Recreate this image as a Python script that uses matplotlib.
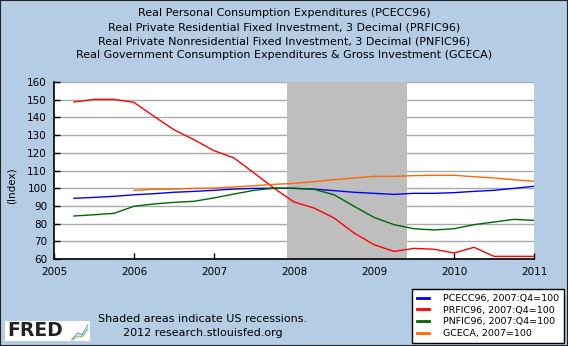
import matplotlib
matplotlib.use("Agg")
import matplotlib.pyplot as plt
from matplotlib.patches import Rectangle

# quarterly dates as decimal years
quarters = [2005.25, 2005.5, 2005.75, 2006.0, 2006.25, 2006.5, 2006.75,
            2007.0, 2007.25, 2007.5, 2007.75, 2008.0, 2008.25, 2008.5,
            2008.75, 2009.0, 2009.25, 2009.5, 2009.75, 2010.0, 2010.25,
            2010.5, 2010.75, 2011.0]

pcecc96 = [94.3, 94.8, 95.4, 96.3, 96.9, 97.7, 98.2, 98.8, 99.5, 99.9,
           100.0, 99.9, 99.5, 98.6, 97.7, 97.1, 96.5, 97.1, 97.1, 97.5,
           98.2, 98.8, 99.9, 101.1]
prfic96 = [148.7, 150.2, 150.2, 148.5, 140.6, 133.0, 127.4, 121.2, 117.1,
           108.6, 100.0, 92.2, 88.8, 83.2, 74.7, 68.1, 64.3, 66.0, 65.5,
           63.4, 66.6, 61.5, 61.5, 61.5]
pnfic96 = [84.3, 85.0, 85.8, 89.8, 91.1, 92.0, 92.6, 94.5, 96.7, 98.8,
           100.0, 100.0, 99.4, 96.3, 89.8, 83.5, 79.4, 77.1, 76.4, 77.1,
           79.4, 80.9, 82.4, 81.8]

gceca_dates = quarters[3:]
gceca = [98.8, 99.4, 99.5, 99.9, 100.1, 100.7, 101.4, 102.2, 102.7, 103.7,
         104.8, 105.8, 106.7, 106.7, 107.1, 107.3, 107.3, 106.5, 105.8,
         104.8, 103.9]

recession = (2007.917, 2009.417)

titles = ["Real Personal Consumption Expenditures (PCECC96)",
          "Real Private Residential Fixed Investment, 3 Decimal (PRFIC96)",
          "Real Private Nonresidential Fixed Investment, 3 Decimal (PNFIC96)",
          "Real Government Consumption Expenditures & Gross Investment (GCECA)"]
labels = ["PCECC96, 2007:Q4=100", "PRFIC96, 2007:Q4=100",
          "PNFIC96, 2007:Q4=100", "GCECA, 2007=100"]

W, H = 568, 346
bg = "#b4cde4"
fig = plt.figure(figsize=(W / 100, H / 100), dpi=100, facecolor=bg)
ax = fig.add_axes([54 / W, 1 - 259 / H, 480 / W, 177 / H])
ax.set_facecolor("white")

ax.axvspan(recession[0], recession[1], color="#bebebe", lw=0, zorder=1)
ax.plot(quarters, pcecc96, color="#0000ff", lw=1.0, zorder=3, label=labels[0])
ax.plot(quarters, prfic96, color="#ff0000", lw=1.0, zorder=3, label=labels[1])
ax.plot(quarters, pnfic96, color="#006600", lw=1.0, zorder=3, label=labels[2])
ax.plot(gceca_dates, gceca, color="#ff6600", lw=1.0, zorder=3, label=labels[3])

ax.set_xlim(2005, 2011)
ax.set_ylim(60, 160)
ax.set_xticks(range(2005, 2012))
ax.set_yticks(range(60, 161, 10))
ax.yaxis.grid(True, color="#aaaaaa", lw=1.0, zorder=0)
ax.set_axisbelow(True)
ax.tick_params(direction="in", length=4, width=1, labelsize=7.5, color="black")
ax.tick_params(axis="y", pad=5)
ax.tick_params(axis="x", pad=6)
for s in ["top", "right"]:
    ax.spines[s].set_visible(False)
for s in ["left", "bottom"]:
    ax.spines[s].set_linewidth(1.2)

fig.text(12 / W, 1 - 186 / H, "(Index)", rotation=90, ha="center", va="center", fontsize=7.5)

for i, t in enumerate(titles):
    fig.text(0.5, 1 - (13 + 14 * i) / H, t, ha="center", va="center", fontsize=8)

leg = fig.legend(loc="lower right", bbox_to_anchor=(564 / W, 3 / H), fontsize=6.8,
                 frameon=True, fancybox=False, edgecolor="black", framealpha=1,
                 handlelength=1.2, handletextpad=1.5, borderpad=0.55, labelspacing=0.27,
                 borderaxespad=0)
leg.get_frame().set_linewidth(1.0)
for h in leg.legend_handles:
    h.set_linewidth(2.0)

fig.text(203 / W, 1 - 319 / H, "Shaded areas indicate US recessions.", ha="center", va="center", fontsize=8)
fig.text(203 / W, 1 - 333 / H, "2012 research.stlouisfed.org", ha="center", va="center", fontsize=8)

# FRED logo
fig.patches.append(Rectangle((5 / W, 1 - 341 / H), 85 / W, 20 / H, transform=fig.transFigure,
                             facecolor="white", edgecolor="none"))
fig.text(7 / W, 1 - 331 / H, "FRED", ha="left", va="center", fontsize=13.5, fontweight="bold", color="#222222")
fig.lines.append(plt.Line2D([72 / W, 78 / W, 82 / W, 88 / W], [1 - 339 / H, 1 - 333 / H, 1 - 335 / H, 1 - 325 / H],
                            transform=fig.transFigure, color="#6699cc", lw=0.8))
fig.lines.append(plt.Line2D([72 / W, 78 / W, 82 / W, 88 / W], [1 - 340 / H, 1 - 336 / H, 1 - 337 / H, 1 - 329 / H],
                            transform=fig.transFigure, color="#88bb44", lw=0.8))

# outer border
fig.patches.append(Rectangle((0, 0), 1, 1, transform=fig.transFigure, facecolor="none",
                             edgecolor="#222222", lw=1.5))

fig.savefig("out.png", dpi=100, facecolor=bg)
